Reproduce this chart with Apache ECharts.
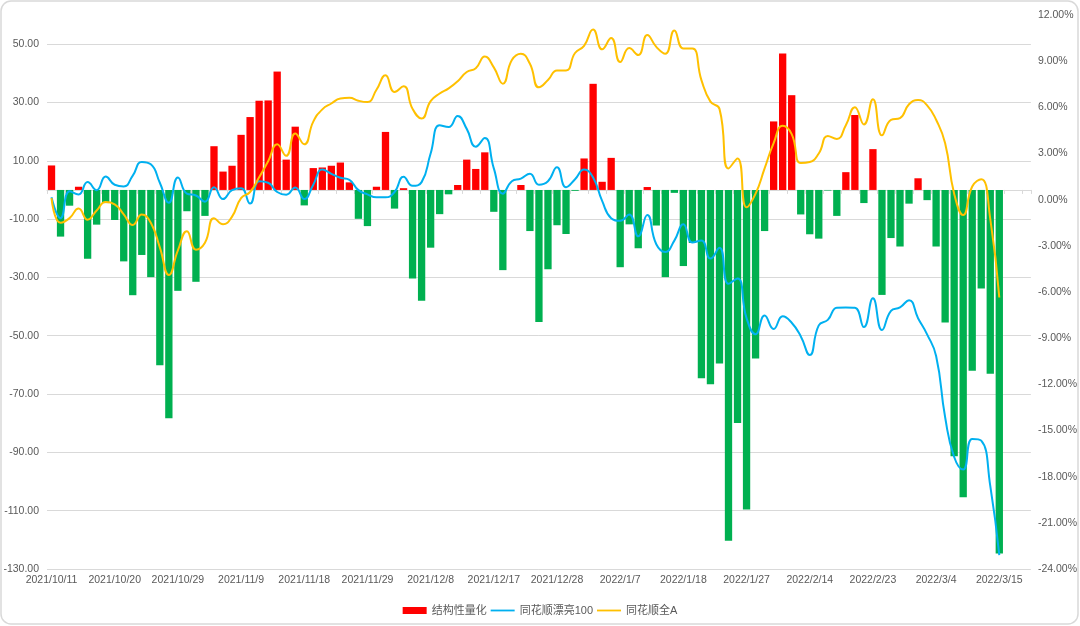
<!DOCTYPE html>
<html><head><meta charset="utf-8">
<script src="https://cdn.jsdelivr.net/npm/echarts@6/dist/echarts.min.js"></script>
<style>html,body{margin:0;padding:0;background:#fff}#c{width:1080px;height:626px}</style>
</head><body><div id="c"></div>
<script>
const dates = [
'2021/10/11','2021/10/12','2021/10/13','2021/10/14','2021/10/15','2021/10/18','2021/10/19','2021/10/20','2021/10/21','2021/10/22','2021/10/25','2021/10/26','2021/10/27','2021/10/28','2021/10/29',
'2021/11/1','2021/11/2','2021/11/3','2021/11/4','2021/11/5','2021/11/8','2021/11/9','2021/11/10','2021/11/11','2021/11/12','2021/11/15','2021/11/16','2021/11/17','2021/11/18','2021/11/19','2021/11/22','2021/11/23','2021/11/24','2021/11/25','2021/11/26','2021/11/29','2021/11/30',
'2021/12/1','2021/12/2','2021/12/3','2021/12/6','2021/12/7','2021/12/8','2021/12/9','2021/12/10','2021/12/13','2021/12/14','2021/12/15','2021/12/16','2021/12/17','2021/12/20','2021/12/21','2021/12/22','2021/12/23','2021/12/24','2021/12/27','2021/12/28','2021/12/29','2021/12/30','2021/12/31',
'2022/1/4','2022/1/5','2022/1/6','2022/1/7','2022/1/10','2022/1/11','2022/1/12','2022/1/13','2022/1/14','2022/1/17','2022/1/18','2022/1/19','2022/1/20','2022/1/21','2022/1/24','2022/1/25','2022/1/26','2022/1/27','2022/1/28',
'2022/2/7','2022/2/8','2022/2/9','2022/2/10','2022/2/11','2022/2/14','2022/2/15','2022/2/16','2022/2/17','2022/2/18','2022/2/21','2022/2/22','2022/2/23','2022/2/24','2022/2/25','2022/2/28',
'2022/3/1','2022/3/2','2022/3/3','2022/3/4','2022/3/7','2022/3/8','2022/3/9','2022/3/10','2022/3/11','2022/3/14','2022/3/15',
'','',''
];
const structQuant = [
8.4,-16.0,-5.4,1.1,-23.6,-11.9,-4.5,-10.3,-24.5,-36.1,-22.3,-29.9,-60.1,-78.3,-34.6,-7.3,-31.5,-8.9,15.0,6.3,
8.3,18.9,25.0,30.6,30.7,40.6,10.4,21.7,-5.3,7.5,7.7,8.3,9.4,2.6,-9.9,-12.4,1.1,19.9,-6.4,0.6,
-30.4,-38.0,-19.8,-8.3,-1.5,1.7,10.4,7.2,12.9,-7.5,-27.5,0,1.7,-14.1,-45.3,-27.2,-12.1,-15.1,-0.3,10.8,
36.4,2.8,11.0,-26.5,-11.8,-20.0,1.0,-12.2,-29.9,-1.0,-26.1,-18.2,-64.6,-66.6,-59.5,-120.3,-79.9,-109.6,-57.8,-14.1,
23.5,46.8,32.5,-8.4,-15.2,-16.7,-0.2,-8.9,6.1,25.7,-4.5,14.0,-36.0,-16.5,-19.4,-4.7,4.0,-3.5,-19.4,-45.5,
-91.3,-105.4,-62.0,-33.8,-63.0,-124.7
];
const pretty100 = [
0.15,-1.2,0.55,0.34,1.14,0.62,1.5,0.97,0.86,1.56,2.45,2.3,1.1,-0.2,1.44,0.39,0.27,-0.13,0.81,0.04,
0.62,0.74,-0.25,1.2,1.1,0.5,0.32,0.79,0.04,0.97,1.96,1.68,1.42,1.28,0.62,0.34,0.15,0.15,0.5,1.49,
0.9,1.14,3.0,4.84,4.72,5.43,4.6,3.44,4.0,2.03,0.39,1.2,1.37,1.68,0.97,1.2,2.1,0.81,1.33,1.96,
1.44,-0.08,-1.2,-1.37,-0.97,-2.38,-1.0,-2.9,-3.4,-2.66,-1.6,-2.78,-2.66,-3.83,-3.13,-5.47,-5.12,-7.7,-8.75,-7.53,
-8.4,-7.58,-8.0,-8.87,-10.1,-8.17,-7.81,-7.02,-7.0,-7.02,-8.28,-6.41,-8.47,-7.23,-7.0,-6.53,-7.7,-8.75,-10.16,-14.14,
-16.72,-17.54,-15.55,-15.66,-18.6,-23.1
];
const allA = [
0.1,-1.5,-1.2,-0.57,-1.3,-0.7,-0.15,-0.3,-0.95,-1.65,-0.97,-1.5,-3.1,-4.9,-3.3,-2.05,-3.25,-2.8,-1.2,-1.6,
-1.1,0.1,0.5,1.45,2.5,3.6,2.85,4.3,3.6,5.07,5.87,6.25,6.57,6.62,6.43,6.34,7.14,8.08,7.0,7.37,
5.9,5.27,6.4,6.9,7.23,7.7,8.3,8.54,9.3,8.6,7.54,9.07,9.48,8.83,7.3,7.77,8.4,8.4,9.53,10.0,
11.05,9.77,10.5,8.94,9.85,9.4,10.7,9.93,9.48,11.0,9.82,9.82,7.77,6.37,5.9,2.03,2.68,-0.5,0.39,2.03,
3.67,4.8,4.26,2.38,2.45,3.0,4.14,3.95,4.84,6.01,4.89,6.53,4.18,5.19,5.3,6.2,6.48,6.13,5.19,3.67,
0.39,-1.0,0.86,1.33,-1.25,-6.36
];
const seriesNames = ['结构性量化','同花顺漂亮100','同花顺全A'];

const POS = '#FF0000', NEG = '#00B050', BLUE = '#00B0F0', GOLD = '#FFC000';
const FONT = "'Liberation Sans','Noto Sans CJK SC',sans-serif";
const LINE_ICON = 'path://M0,0M0,2.6L24,2.6L24,4.4L0,4.4ZM24,7';
const chart = echarts.init(document.getElementById('c'), null, {renderer:'canvas'});
const barData = structQuant.map(v => v < 0 ? {value:v, itemStyle:{color:NEG}} : v);

chart.setOption({
  animation:false,
  textStyle:{fontFamily:FONT},
  graphic:[{type:'rect', shape:{x:1,y:1,width:1077,height:623,r:10}, style:{fill:'none',stroke:'#d9d9d9',lineWidth:1.5}, z:-1}],
  grid:{left:47,right:48,top:15,bottom:57},
  legend:{
    top:600, left:'center', itemGap:4, itemWidth:24, itemHeight:7,
    textStyle:{color:'#595959',fontSize:11,fontFamily:FONT},
    data:[{name:seriesNames[0],icon:'rect'},{name:seriesNames[1],icon:LINE_ICON},{name:seriesNames[2],icon:LINE_ICON}]
  },
  xAxis:[
    {type:'category', data:dates, boundaryGap:true,
     axisLine:{show:false}, axisTick:{show:false}, splitLine:{show:false},
     axisLabel:{interval:6, color:'#595959', fontSize:10.5, margin:6, fontFamily:FONT}},
    {type:'category', data:dates, boundaryGap:true, position:'bottom',
     axisLine:{show:true, onZero:true, onZeroAxisIndex:0, lineStyle:{color:'#d9d9d9',width:1}},
     axisTick:{show:true, interval:1, length:4, lineStyle:{color:'#d9d9d9'}},
     axisLabel:{show:false}, splitLine:{show:false}}
  ],
  yAxis:[
    {type:'value', min:-130, max:60, interval:20, position:'left',
     axisLine:{show:false}, axisTick:{show:false},
     axisLabel:{color:'#595959', fontSize:10.5, margin:8, showMaxLabel:false, fontFamily:FONT,
       formatter:v => v.toFixed(2)},
     splitLine:{show:true, showMaxLine:false, lineStyle:{color:'#d9d9d9',width:1}}},
    {type:'value', min:-24, max:12, interval:3, position:'right',
     axisLine:{show:false}, axisTick:{show:false}, splitLine:{show:false},
     axisLabel:{color:'#595959', fontSize:10.5, margin:7, fontFamily:FONT,
       formatter:v => v.toFixed(2)+'%'}}
  ],
  series:[
    {name:seriesNames[0], type:'bar', xAxisIndex:0, yAxisIndex:0, data:barData,
     barCategoryGap:'19%', itemStyle:{color:POS}},
    {name:seriesNames[1], type:'line', xAxisIndex:0, yAxisIndex:1, data:pretty100,
     smooth:true, symbol:'none', lineStyle:{color:BLUE,width:2}, itemStyle:{color:BLUE}},
    {name:seriesNames[2], type:'line', xAxisIndex:0, yAxisIndex:1, data:allA,
     smooth:true, symbol:'none', lineStyle:{color:GOLD,width:2}, itemStyle:{color:GOLD}}
  ]
});
</script></body></html>
